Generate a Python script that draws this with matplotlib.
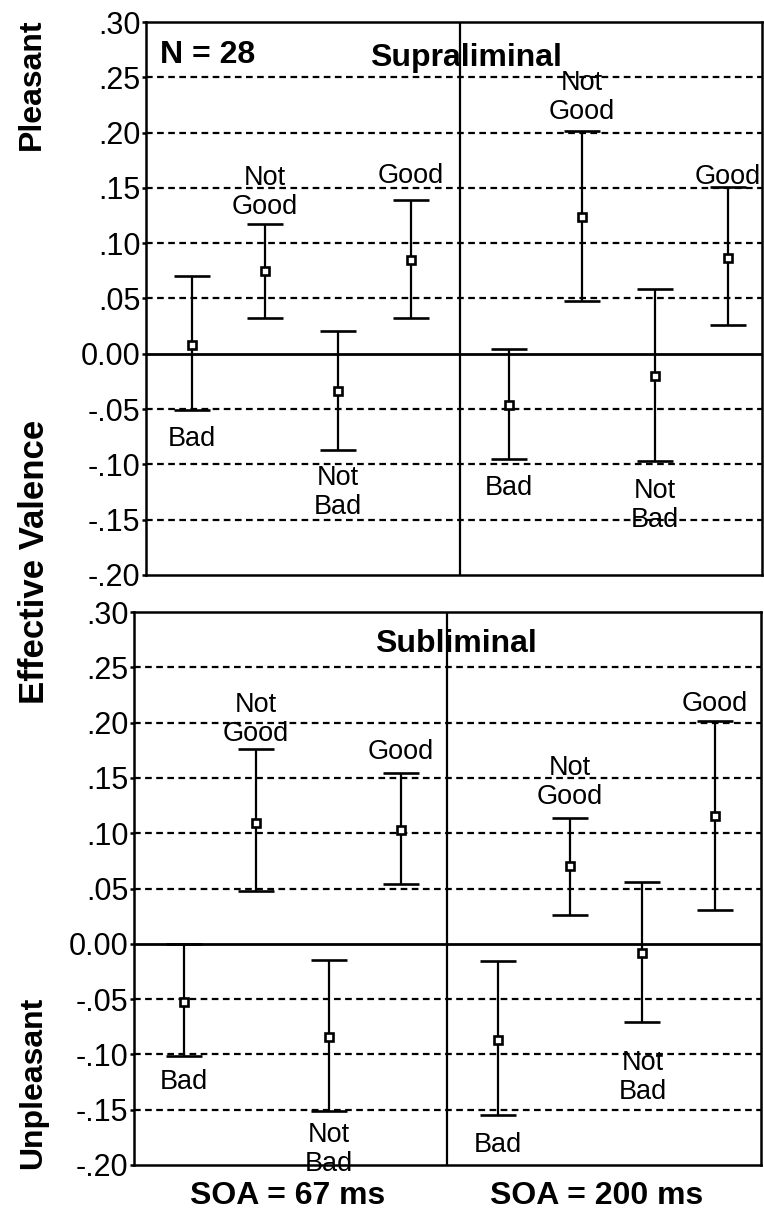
import matplotlib
matplotlib.use("Agg")
import matplotlib.pyplot as plt
import numpy as np

plt.rcParams["font.family"] = ["Liberation Sans", "DejaVu Sans"]

categories = ["Bad", "Not\nGood", "Not\nBad", "Good"]
soa_labels = ["SOA = 67 ms", "SOA = 200 ms"]
y_ticks = [0.30, 0.25, 0.20, 0.15, 0.10, 0.05, 0.00, -0.05, -0.10, -0.15, -0.20]
y_tick_labels = [".30", ".25", ".20", ".15", ".10", ".05", "0.00", "-.05", "-.10", "-.15", "-.20"]

# supraliminal: SOA 67 then SOA 200 (Bad, Not Good, Not Bad, Good)
supra_mean_67 = [0.008, 0.075, -0.034, 0.085]
supra_low_67 = [-0.051, 0.032, -0.087, 0.032]
supra_high_67 = [0.070, 0.117, 0.021, 0.139]
supra_mean_200 = [-0.046, 0.124, -0.020, 0.087]
supra_low_200 = [-0.095, 0.048, -0.097, 0.026]
supra_high_200 = [0.004, 0.201, 0.059, 0.151]

# subliminal
sub_mean_67 = [-0.053, 0.109, -0.084, 0.103]
sub_low_67 = [-0.101, 0.048, -0.151, 0.054]
sub_high_67 = [0.000, 0.176, -0.015, 0.154]
sub_mean_200 = [-0.087, 0.070, -0.008, 0.116]
sub_low_200 = [-0.155, 0.026, -0.071, 0.031]
sub_high_200 = [-0.016, 0.114, 0.056, 0.201]

# label heights (data units) for the category names
supra_label_y_67 = [-0.077, 0.146, -0.125, 0.161]
supra_label_y_200 = [-0.121, 0.232, -0.137, 0.160]
sub_label_y_67 = [-0.125, 0.203, -0.186, 0.173]
sub_label_y_200 = [-0.182, 0.146, -0.121, 0.217]

W, H = 764, 1211
fig = plt.figure(figsize=(W / 100, H / 100), dpi=100, facecolor="white")

panels = [
    dict(rect=[146 / W, (H - 575) / H, 616 / W, 553 / H], xlim=(-0.63, 7.81), div=3.67,
         means=(supra_mean_67, supra_mean_200), lows=(supra_low_67, supra_low_200),
         highs=(supra_high_67, supra_high_200), labely=(supra_label_y_67, supra_label_y_200),
         title="Supraliminal", title_xy=(0.519, 0.921)),
    dict(rect=[134 / W, (H - 1165) / H, 627 / W, 553 / H], xlim=(-0.69, 7.98), div=3.64,
         means=(sub_mean_67, sub_mean_200), lows=(sub_low_67, sub_low_200),
         highs=(sub_high_67, sub_high_200), labely=(sub_label_y_67, sub_label_y_200),
         title="Subliminal", title_xy=(0.514, 0.928)),
]

group_offset = 4.34
for p in panels:
    ax = fig.add_axes(p["rect"])
    ax.set_xlim(*p["xlim"])
    ax.set_ylim(-0.20, 0.30)
    for s in ax.spines.values():
        s.set_linewidth(1.8)
        s.set_color("black")
    ax.set_xticks([])
    ax.set_yticks(y_ticks, y_tick_labels, fontsize=22)
    ax.tick_params(axis="y", length=3, width=1.8, pad=1)
    for v in y_ticks:
        if v in (0.30, -0.20):
            continue
        if v == 0.0:
            ax.axhline(0, color="black", lw=2.0, zorder=1)
        else:
            ax.axhline(v, color="black", lw=1.6, ls=(0, (3, 2)), zorder=1)
    ax.axvline(p["div"], color="black", lw=1.6, zorder=1)

    for g in range(2):
        x = np.arange(4) + g * group_offset
        m = np.array(p["means"][g])
        lo = np.array(p["lows"][g])
        hi = np.array(p["highs"][g])
        ax.errorbar(x, m, yerr=[m - lo, hi - m], fmt="s", color="black", ecolor="black",
                    elinewidth=1.6, capsize=13, capthick=2.2, markersize=6,
                    markerfacecolor="white", markeredgewidth=1.9, zorder=3)
        for xi, yl, name in zip(x, p["labely"][g], categories):
            ax.text(xi, yl, name, ha="center", va="center", fontsize=19.5,
                    linespacing=1.15, zorder=4)

    ax.text(p["title_xy"][0], p["title_xy"][1], p["title"], transform=ax.transAxes,
            ha="center", va="baseline", fontsize=23, fontweight="bold")
    if p["title"] == "Supraliminal":
        ax.text(0.023, 0.926, "N = 28", transform=ax.transAxes, ha="left",
                va="baseline", fontsize=23, fontweight="bold")

fig.text(32 / W, 1 - 84 / H, "Pleasant", rotation=90, ha="center", va="center",
         fontsize=23, fontweight="bold")
fig.text(35 / W, 1 - 562 / H, "Effective Valence", rotation=90, ha="center", va="center",
         fontsize=25, fontweight="bold")
fig.text(33 / W, 1 - 1083 / H, "Unpleasant", rotation=90, ha="center", va="center",
         fontsize=23, fontweight="bold")
fig.text(288 / W, 1 - 1196 / H, soa_labels[0], ha="center", va="center",
         fontsize=23, fontweight="bold")
fig.text(597 / W, 1 - 1196 / H, soa_labels[1], ha="center", va="center",
         fontsize=23, fontweight="bold")

fig.savefig("out.png", dpi=100, facecolor="white")
